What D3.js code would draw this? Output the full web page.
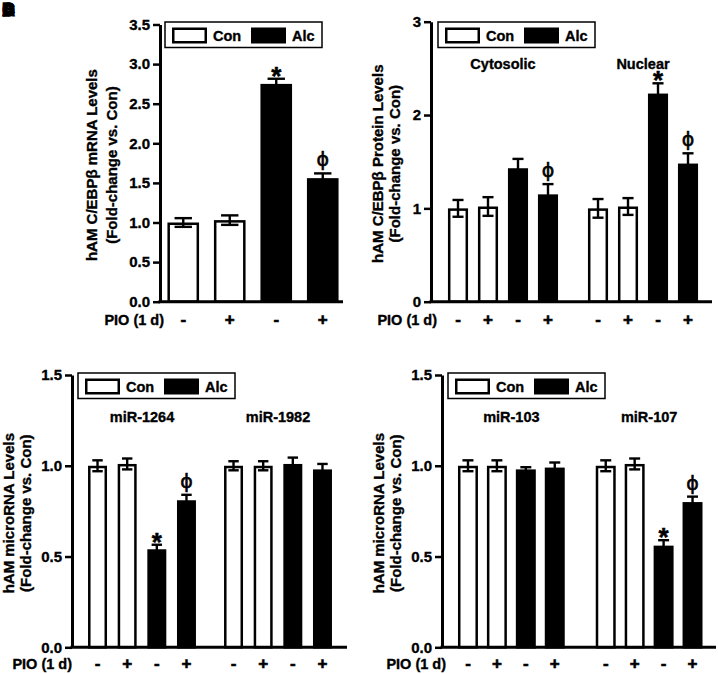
<!DOCTYPE html>
<html>
<head>
<meta charset="utf-8">
<script src="https://cdn.jsdelivr.net/npm/d3@7"></script>
<style>
  html, body { margin: 0; padding: 0; background: #fff; }
  svg { display: block; }
  text { font-family: "Liberation Sans", Arial, Helvetica, sans-serif; font-weight: bold; fill: #000; stroke: #000; stroke-width: 0.35px; }
</style>
</head>
<body>
<script>
// ---------------- DATA ----------------
const pioLabels = ["-", "+", "-", "+"];
const treatment = ["Con", "Con", "Alc", "Alc"];
const legendKeys = ["Con", "Alc"];
const panelLetters = ["A", "B", "C", "D"];

// Panel A: C/EBPβ mRNA
const aGroups = [""];
const aMeans = [[1.00, 1.03, 2.75, 1.56]];
const aErrs  = [[0.055, 0.06, 0.065, 0.06]];
const aMarks = [["", "", "*", "ϕ"]];
const aTicks = [0, 0.5, 1.0, 1.5, 2.0, 2.5, 3.0, 3.5];
const aTitle = ["hAM C/EBPβ mRNA Levels", "(Fold-change vs. Con)"];

// Panel B: C/EBPβ protein
const bGroups = ["Cytosolic", "Nuclear"];
const bMeans = [[1.00, 1.02, 1.43, 1.15], [1.00, 1.02, 2.23, 1.48]];
const bErrs  = [[0.09, 0.10, 0.10, 0.11], [0.10, 0.09, 0.11, 0.11]];
const bMarks = [["", "", "", "ϕ"], ["", "", "*", "ϕ"]];
const bTicks = [0, 1, 2, 3];
const bTitle = ["hAM C/EBPβ Protein Levels", "(Fold-change vs. Con)"];

// Panel C: microRNA
const cGroups = ["miR-1264", "miR-1982"];
const cMeans = [[1.00, 1.01, 0.54, 0.81], [1.00, 1.00, 1.01, 0.98]];
const cErrs  = [[0.03, 0.03, 0.025, 0.03], [0.025, 0.025, 0.035, 0.03]];
const cMarks = [["", "", "*", "ϕ"], ["", "", "", ""]];
const cTicks = [0, 0.5, 1.0, 1.5];
const cTitle = ["hAM microRNA Levels", "(Fold-change vs. Con)"];

// Panel D: microRNA
const dGroups = ["miR-103", "miR-107"];
const dMeans = [[1.00, 1.00, 0.98, 0.99], [1.00, 1.01, 0.56, 0.80]];
const dErrs  = [[0.03, 0.03, 0.012, 0.028], [0.03, 0.03, 0.03, 0.03]];
const dMarks = [["", "", "", ""], ["", "", "*", "ϕ"]];
const dTicks = [0, 0.5, 1.0, 1.5];
const dTitle = ["hAM microRNA Levels", "(Fold-change vs. Con)"];

// ---------------- LAYOUT ----------------
const svg = d3.select("body").append("svg").attr("width", 718).attr("height", 674);

const panels = [
  { groups: aGroups, means: aMeans, errs: aErrs, marks: aMarks, ticks: aTicks, title: aTitle,
    fmt: d3.format(".1f"), yMax: 3.5, yPx: [301.7, 24.5], axisX: 160, xEnd: 343,
    outer: [160, 346], outerPad: 0, innerPad: 0.32, titleX: [97, 117],
    legend: [165, 22], pioY: 325, pioEnd: 164, groupLabelY: null },
  { groups: bGroups, means: bMeans, errs: bErrs, marks: bMarks, ticks: bTicks, title: bTitle,
    fmt: d3.format("d"), yMax: 3, yPx: [301.7, 21.7], axisX: 431, xEnd: 712,
    outer: [443, 703], outerPad: 0.143, innerPad: 0.33, titleX: [383, 400],
    legend: [438, 22], pioY: 325, pioEnd: 437, groupLabelY: 69 },
  { groups: cGroups, means: cMeans, errs: cErrs, marks: cMarks, ticks: cTicks, title: cTitle,
    fmt: d3.format(".1f"), yMax: 1.5, yPx: [647.3, 375], axisX: 72, xEnd: 347,
    outer: [82.7, 337.3], outerPad: 0.128, innerPad: 0.36, titleX: [14, 31],
    legend: [78, 373], pioY: 669, pioEnd: 72, groupLabelY: 421.5 },
  { groups: dGroups, means: dMeans, errs: dErrs, marks: dMarks, ticks: dTicks, title: dTitle,
    fmt: d3.format(".1f"), yMax: 1.5, yPx: [647.3, 375], axisX: 442, xEnd: 716,
    outer: [453.5, 707], outerPad: 0.16, innerPad: 0.31, titleX: [383.5, 400.5],
    legend: [448, 373], pioY: 669, pioEnd: 446, groupLabelY: 421.5 }
];

const fillOf = t => t === "Con" ? "#fff" : "#000";

panels.forEach(p => {
  const g = svg.append("g");
  const y = d3.scaleLinear().domain([0, p.yMax]).range(p.yPx);
  const xo = d3.scaleBand().domain(p.groups).range(p.outer).paddingInner(p.outerPad).paddingOuter(0);
  const xi = d3.scaleBand().domain(d3.range(pioLabels.length)).range([0, xo.bandwidth()])
    .paddingInner(p.innerPad).paddingOuter(p.innerPad / 2);

  const recs = p.groups.flatMap((grp, gi) => pioLabels.map((lab, i) => ({
    grp, i, lab, v: p.means[gi][i], e: p.errs[gi][i], m: p.marks[gi][i], t: treatment[i]
  })));
  const cx = d => xo(d.grp) + xi(d.i) + xi.bandwidth() / 2;
  const bw = xi.bandwidth();
  const sw = 2.5;

  // bars
  g.selectAll("rect.bar").data(recs).join("rect").attr("class", "bar")
    .attr("x", d => xo(d.grp) + xi(d.i) + sw / 2)
    .attr("width", bw - sw)
    .attr("y", d => y(d.v) + sw / 2)
    .attr("height", d => y(0) - y(d.v) - sw / 2)
    .attr("fill", d => fillOf(d.t))
    .attr("stroke", "#000").attr("stroke-width", sw);

  // error bars
  const capW = bw * 0.55;
  const eb = g.selectAll("g.err").data(recs).join("g").attr("class", "err")
    .attr("stroke", "#000").attr("stroke-width", 2.4);
  eb.append("line").attr("x1", cx).attr("x2", cx)
    .attr("y1", d => y(d.v - d.e)).attr("y2", d => y(d.v + d.e));
  eb.append("line").attr("x1", d => cx(d) - capW / 2).attr("x2", d => cx(d) + capW / 2)
    .attr("y1", d => y(d.v + d.e)).attr("y2", d => y(d.v + d.e));
  eb.append("line").attr("x1", d => cx(d) - capW / 2).attr("x2", d => cx(d) + capW / 2)
    .attr("y1", d => y(d.v - d.e)).attr("y2", d => y(d.v - d.e));

  // significance marks
  g.selectAll("text.mark").data(recs.filter(d => d.m)).join("text").attr("class", "mark")
    .attr("x", cx)
    .attr("y", d => d.m === "*" ? y(d.v + d.e) + 6 : y(d.v + d.e) - 7)
    .attr("text-anchor", "middle")
    .style("font-size", d => d.m === "*" ? "26px" : "19px")
    .style("font-weight", d => d.m === "*" ? "bold" : "normal")
    .style("stroke-width", d => d.m === "*" ? "0.5px" : "0.6px")
    .style("font-family", d => d.m === "*" ? null : "'DejaVu Sans', sans-serif")
    .text(d => d.m);

  // y axis
  const ax = g.append("g").attr("transform", `translate(${p.axisX},0)`)
    .call(d3.axisLeft(y).tickValues(p.ticks).tickFormat(p.fmt).tickSize(7).tickSizeOuter(0).tickPadding(3));
  ax.select(".domain").attr("stroke", "#000").attr("stroke-width", 3);
  ax.selectAll(".tick line").attr("stroke", "#000").attr("stroke-width", 2.5);
  ax.selectAll(".tick text").style("font-size", "15px").style("font-weight", "bold")
    .style("font-family", "'Liberation Sans', Arial, sans-serif").attr("fill", "#000");

  // x axis baseline
  g.append("line").attr("x1", p.axisX - 1.5).attr("x2", p.xEnd)
    .attr("y1", y(0)).attr("y2", y(0)).attr("stroke", "#000").attr("stroke-width", 3);

  // PIO labels
  g.selectAll("text.pio").data(recs).join("text").attr("class", "pio")
    .attr("x", cx).attr("y", p.pioY).attr("text-anchor", "middle")
    .style("font-size", "17px").style("stroke-width", "0.6px").text(d => d.lab);
  g.append("text").attr("x", p.pioEnd).attr("y", p.pioY).attr("text-anchor", "end")
    .style("font-size", "14.5px").text("PIO (1 d)");

  // group labels
  if (p.groupLabelY !== null) {
    g.selectAll("text.grp").data(p.groups).join("text").attr("class", "grp")
      .attr("x", d => xo(d) + xo.bandwidth() / 2).attr("y", p.groupLabelY)
      .attr("text-anchor", "middle").style("font-size", "14.5px").text(d => d);
  }

  // y title
  const cy = (p.yPx[0] + p.yPx[1]) / 2 + 2;
  p.title.forEach((line, li) => {
    g.append("text").attr("transform", `translate(${p.titleX[li]},${cy}) rotate(-90)`)
      .attr("text-anchor", "middle").style("font-size", "15px").text(line);
  });

  // legend
  const [lx, ly] = p.legend;
  const lg = g.append("g").attr("transform", `translate(${lx},${ly})`);
  lg.append("rect").attr("x", 0).attr("y", 0).attr("width", 157).attr("height", 25.5)
    .attr("fill", "#fff").attr("stroke", "#000").attr("stroke-width", 1.5);
  legendKeys.forEach((k, i) => {
    const ox = 7 + i * 79;
    lg.append("rect").attr("x", ox + 1.25).attr("y", 5.5 + 1.25).attr("width", 35 - 2.5).attr("height", 16 - 2.5)
      .attr("fill", fillOf(k)).attr("stroke", "#000").attr("stroke-width", 2.5);
    lg.append("text").attr("x", ox + 41).attr("y", 18.5).style("font-size", "14.5px").text(k);
  });
});

// overlapping panel letters (as in the source)
svg.selectAll("text.letter").data(panelLetters).join("text").attr("class", "letter")
  .attr("x", 2).attr("y", 16).style("font-size", "18px").style("stroke-width", "0.8px").text(d => d);
</script>
</body>
</html>
